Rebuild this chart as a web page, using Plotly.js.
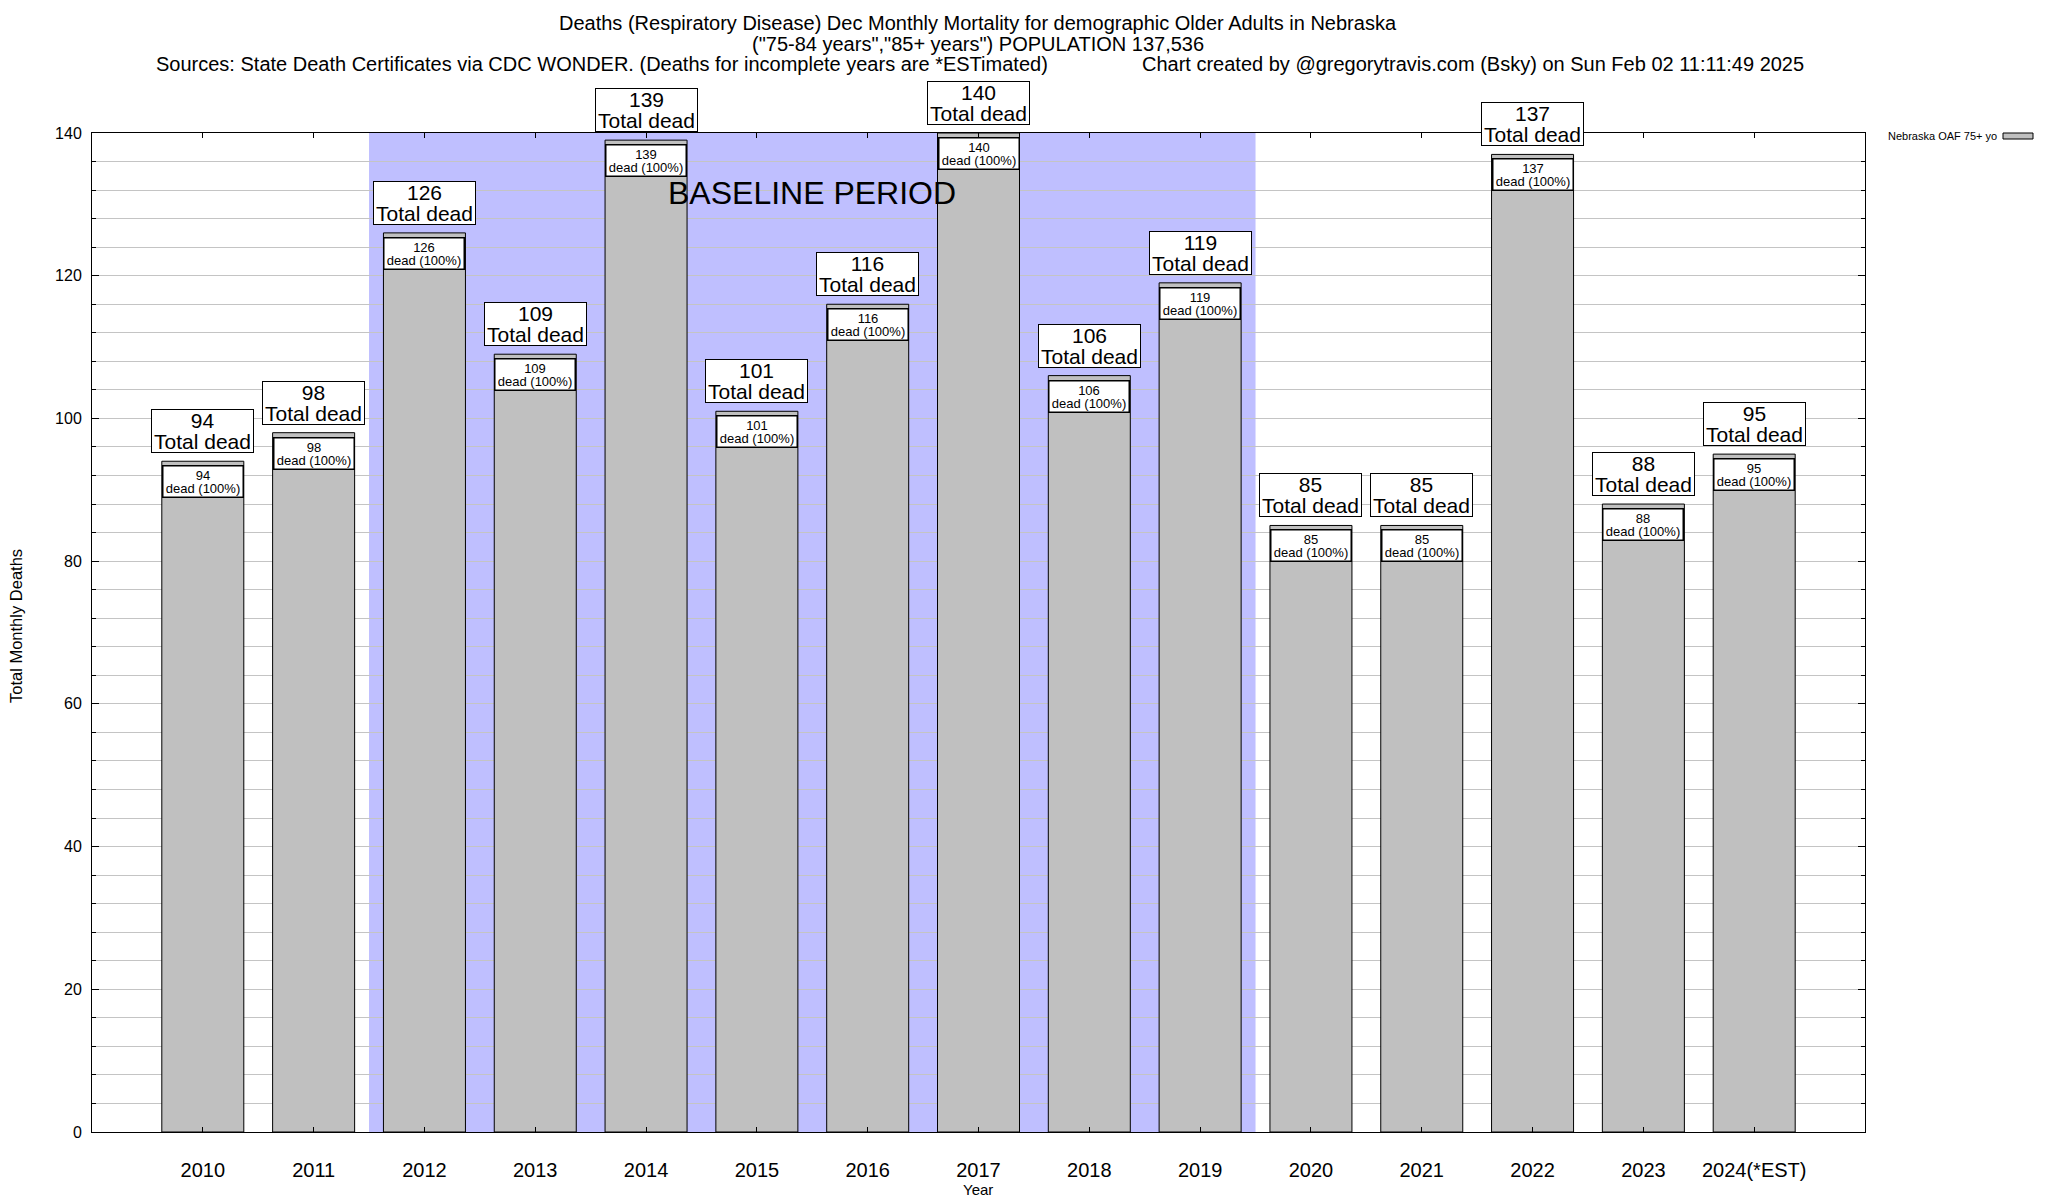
<!DOCTYPE html>
<html>
<head>
<meta charset="utf-8">
<script src="https://cdn.plot.ly/plotly-3.0.1.min.js"></script>
<style>html,body{margin:0;padding:0;background:#fff;}#chart{width:2048px;height:1200px;}</style>
</head>
<body>
<div id="chart"></div>
<script>
// ---- data ----
var years = [2010, 2011, 2012, 2013, 2014, 2015, 2016, 2017, 2018, 2019, 2020, 2021, 2022, 2023, 2024];
var yearLabels = ["2010", "2011", "2012", "2013", "2014", "2015", "2016", "2017", "2018", "2019", "2020", "2021", "2022", "2023", "2024(*EST)"];
var deaths = [94, 98, 126, 109, 139, 101, 116, 140, 106, 119, 85, 85, 137, 88, 95];
var totals = [94, 98, 126, 109, 139, 101, 116, 140, 106, 119, 85, 85, 137, 88, 95];
var seriesName = "Nebraska OAF 75+ yo";
var baselineFirst = 2012;
var baselineLast = 2019;
var titleLines = [
  "Deaths (Respiratory Disease) Dec Monthly Mortality for demographic Older Adults in Nebraska",
  "(\"75-84 years\",\"85+ years\") POPULATION 137,536"
];
var sourceText = "Sources: State Death Certificates via CDC WONDER. (Deaths for incomplete years are *ESTimated)";
var creditText = "Chart created by @gregorytravis.com (Bsky) on Sun Feb 02 11:11:49 2025";

// ---- layout geometry (pixels) ----
var W = 2048, H = 1200;
var L = 92, R = 183, T = 133, B = 68;
var pw = W - L - R, ph = H - T - B;
function px2x(px) { return (px - L) / pw; }
function py2y(py) { return (H - B - py) / ph; }
var FONT = "Liberation Sans, Arial, Helvetica, sans-serif";
function big(s, sz) { return "<span style='font-size:" + sz + "px'>" + s + "</span>"; }

var trace = {
  type: "bar",
  x: years,
  y: deaths,
  width: 0.74,
  name: seriesName,
  marker: { color: "#c0c0c0", line: { color: "#000", width: 1 } },
  showlegend: false,
  hoverinfo: "x+y"
};

var annotations = [];
for (var i = 0; i < years.length; i++) {
  var pct = Math.round(deaths[i] / totals[i] * 100);
  annotations.push({
    x: years[i], y: deaths[i], xref: "x", yref: "y",
    text: big(totals[i], 21) + "<br>" + big("Total dead", 21),
    showarrow: false, yanchor: "bottom", yshift: 8,
    font: { family: FONT, size: 16, color: "#000" },
    bgcolor: "#fff", bordercolor: "#000", borderwidth: 1, borderpad: 0,
    width: 101, height: 42
  });
  annotations.push({
    x: years[i], y: deaths[i], xref: "x", yref: "y",
    text: big(deaths[i], 13) + "<br>" + big("dead (" + pct + "%)", 13),
    showarrow: false, yanchor: "top", yshift: -4,
    font: { family: FONT, size: 10, color: "#000" },
    bgcolor: "#fff", bordercolor: "#000", borderwidth: 1.5, borderpad: 0,
    width: 79, height: 30
  });
}
annotations.push({
  x: (baselineFirst + baselineLast) / 2, y: 131.6, xref: "x", yref: "y",
  text: "BASELINE PERIOD", showarrow: false,
  font: { family: FONT, size: 32, color: "#000" }
});
function paperText(txt, pxX, pxY, size, anchor) {
  return {
    x: px2x(pxX), y: py2y(pxY), xref: "paper", yref: "paper", text: txt,
    xanchor: anchor || "center", yanchor: "middle",
    showarrow: false, font: { family: FONT, size: size, color: "#000" }
  };
}
annotations.push(paperText(titleLines[0], 978, 23, 20));
annotations.push(paperText(titleLines[1], 978, 44, 20));
annotations.push(paperText(sourceText, 154, 64, 20, "left"));
annotations.push(paperText(creditText, 1140, 64, 20, "left"));
annotations.push(paperText("Year", 978, 1189, 15));
annotations.push(paperText(seriesName, 1999, 136, 11, "right"));
var ylab = paperText("Total Monthly Deaths", 16, 626, 16.5);
ylab.textangle = -90;
annotations.push(ylab);

var shapes = [
  {
    type: "rect", xref: "x", yref: "paper",
    x0: baselineFirst - 0.5, x1: baselineLast + 0.5, y0: 0, y1: 1,
    fillcolor: "#bfbfff", line: { width: 0 }, layer: "below"
  },
  {
    type: "rect", xref: "paper", yref: "paper",
    x0: px2x(2003), x1: px2x(2033), y0: py2y(139), y1: py2y(133),
    fillcolor: "#c0c0c0", line: { color: "#000", width: 1 }
  }
];

var layout = {
  width: W, height: H,
  margin: { l: L, r: R, t: T, b: B, pad: 0 },
  paper_bgcolor: "#fff", plot_bgcolor: "#fff",
  font: { family: FONT, color: "#000" },
  showlegend: false,
  xaxis: {
    range: [years[0] - 1, years[years.length - 1] + 1],
    tickmode: "array", tickvals: years, ticktext: yearLabels,
    ticks: "inside", ticklen: 5, tickcolor: "#000",
    showgrid: false, zeroline: false,
    showline: true, linecolor: "#000", linewidth: 1, mirror: "ticks",
    tickfont: { family: FONT, size: 20, color: "#000" },
    ticklabelstandoff: 20
  },
  yaxis: {
    range: [0, 140], dtick: 20, tick0: 0,
    ticks: "inside", ticklen: 7, tickcolor: "#000",
    showgrid: true, gridcolor: "#c4c4c4", gridwidth: 1,
    zeroline: false,
    showline: true, linecolor: "#000", linewidth: 1, mirror: "ticks",
    tickfont: { family: FONT, size: 16, color: "#000" },
    ticklabelstandoff: 6,
    minor: { dtick: 4, tick0: 0, showgrid: true, gridcolor: "#c4c4c4", gridwidth: 1, ticks: "inside", ticklen: 4, tickcolor: "#000" }
  },
  annotations: annotations,
  shapes: shapes
};

Plotly.newPlot("chart", [trace], layout, { displayModeBar: false, staticPlot: true });
</script>
</body>
</html>
